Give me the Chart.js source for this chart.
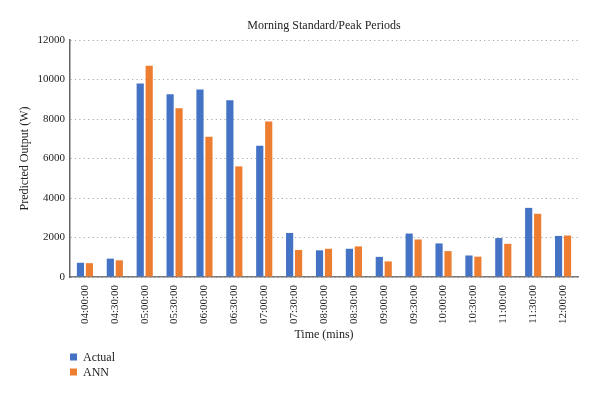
<!DOCTYPE html>
<html>
<head>
<meta charset="utf-8">
<script src="https://cdn.jsdelivr.net/npm/chart.js@4.4.1/dist/chart.umd.min.js"></script>
<style>
html,body{margin:0;padding:0;background:#fff;}
#wrap{width:600px;height:397px;position:relative;}
</style>
</head>
<body>
<div id="wrap"><canvas id="c" width="600" height="397"></canvas></div>
<script>
const categories = ["04:00:00","04:30:00","05:00:00","05:30:00","06:00:00","06:30:00","07:00:00","07:30:00","08:00:00","08:30:00","09:00:00","09:30:00","10:00:00","10:30:00","11:00:00","11:30:00","12:00:00"];
const actualValues = [720, 930, 9800, 9250, 9500, 8950, 6650, 2230, 1350, 1430, 1020, 2200, 1700, 1090, 1970, 3500, 2080];
const annValues = [700, 845, 10700, 8550, 7100, 5600, 7870, 1370, 1430, 1550, 790, 1900, 1310, 1030, 1680, 3200, 2100];
const yTicks = [0, 2000, 4000, 6000, 8000, 10000, 12000];
const chartTitle = "Morning Standard/Peak Periods";
const xTitle = "Time (mins)";
const yTitle = "Predicted Output (W)";

const FONT = "'Liberation Serif', 'DejaVu Serif', serif";
const TXT = '#222';

const decor = {
  id: 'decor',
  afterDraw(chart) {
    const ctx = chart.ctx;
    const a = chart.chartArea;
    ctx.save();
    ctx.fillStyle = TXT;
    ctx.font = "12px " + FONT;
    ctx.textAlign = 'center';
    ctx.textBaseline = 'middle';
    ctx.fillText(chartTitle, (a.left + a.right) / 2, 26);
    // legend
    ctx.textAlign = 'left';
    ctx.font = "12px " + FONT;
    chart.data.datasets.forEach((ds, i) => {
      const y = 357 + i * 15;
      ctx.fillStyle = ds.backgroundColor;
      ctx.fillRect(a.left, y - 3.5, 7, 7);
      ctx.fillStyle = TXT;
      ctx.fillText(ds.label, a.left + 13, y + 0.5);
    });
    ctx.restore();
  }
};

new Chart(document.getElementById('c'), {
  type: 'bar',
  data: {
    labels: categories,
    datasets: [
      { label: 'Actual', data: actualValues, backgroundColor: '#4472C4', categoryPercentage: 0.6, barPercentage: 0.8 },
      { label: 'ANN', data: annValues, backgroundColor: '#ED7D31', categoryPercentage: 0.6, barPercentage: 0.8 }
    ]
  },
  options: {
    responsive: false,
    animation: false,
    devicePixelRatio: 1,
    layout: { padding: { top: 40, right: 22, bottom: 55, left: 0 } },
    plugins: {
      legend: { display: false },
      title: { display: false },
      tooltip: { enabled: false }
    },
    scales: {
      x: {
        grid: { display: false },
        border: { display: true, color: '#7a7a7a', width: 1.5 },
        ticks: { color: TXT, font: { family: FONT, size: 11 }, minRotation: 90, maxRotation: 90, padding: 0 },
        title: { display: true, text: xTitle, color: TXT, font: { family: FONT, size: 12 }, padding: { top: 4, bottom: 0 } },
        afterFit(s) { s.height = 65; }
      },
      y: {
        min: 0,
        max: 12000,
        afterBuildTicks(s) { s.ticks = yTicks.map(v => ({ value: v })); },
        grid: { color: '#a8a8a8', lineWidth: 1, drawTicks: false },
        border: { display: true, color: '#666', width: 1.5, dash: [1.2, 3.2] },
        ticks: { color: TXT, font: { family: FONT, size: 11 }, padding: 5, callback: (v) => String(v) },
        title: { display: true, text: yTitle, color: TXT, font: { family: FONT, size: 12 }, padding: { top: 18, bottom: 6 } },
        afterFit(s) { s.width = 70; }
      }
    }
  },
  plugins: [decor]
});
</script>
</body>
</html>
